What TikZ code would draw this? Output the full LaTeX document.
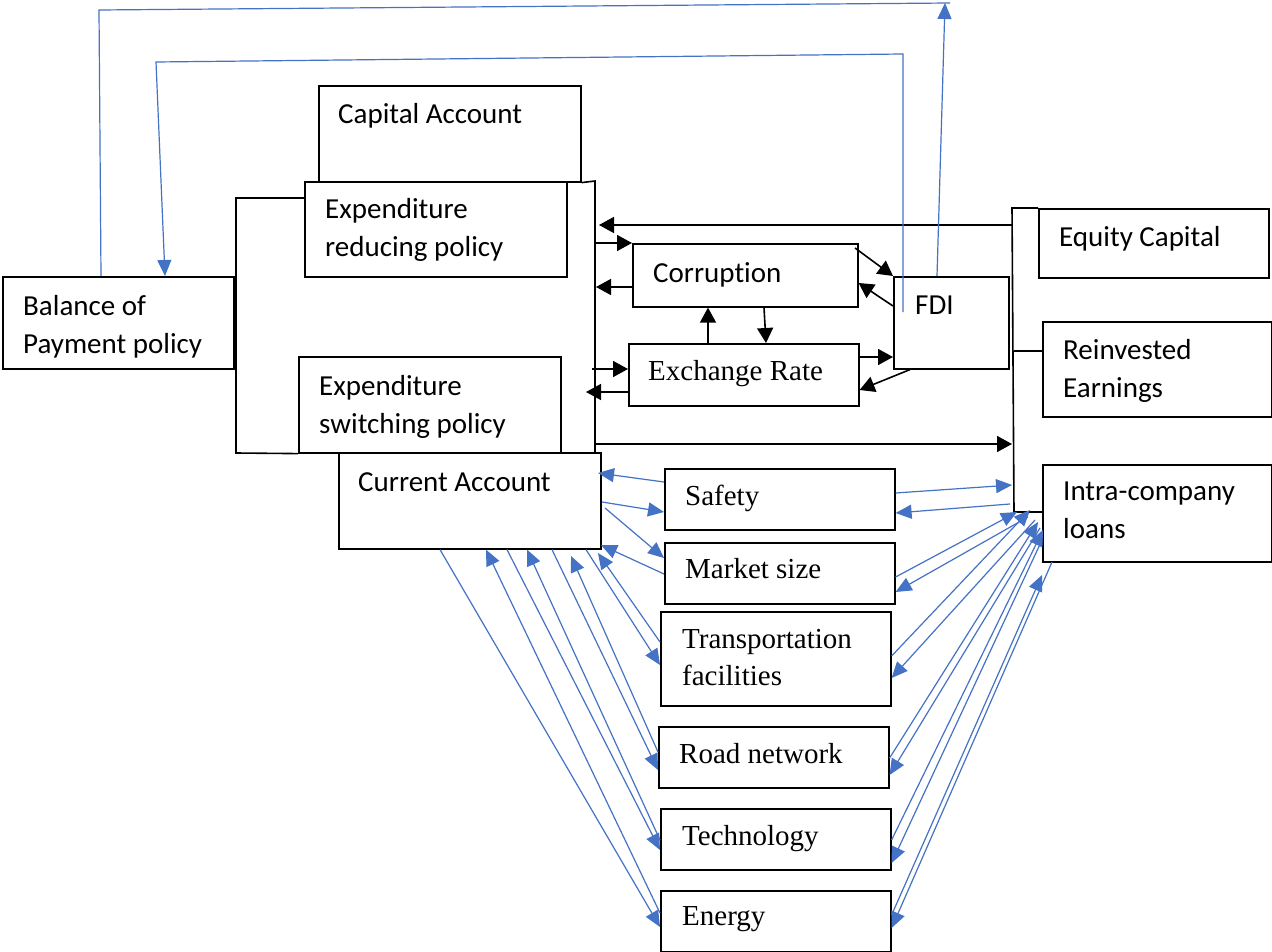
\documentclass[tikz,border=0pt]{standalone}
\usepackage{fontspec}
\setmainfont[Ligatures=NoCommon]{Carlito}
\newfontfamily\tnr{Liberation Serif}
\usetikzlibrary{arrows.meta}
\definecolor{bl}{HTML}{4472C4}
\begin{document}
\begin{tikzpicture}[x=1pt,y=-1pt,
 box/.style={draw, line width=1.6pt, inner sep=0pt, anchor=north west},
 txt/.style={inner sep=0pt, anchor=base west, align=left, font=\fontsize{29}{38}\selectfont},
 stxt/.style={inner sep=0pt, anchor=base west, align=left, font=\fontsize{29}{37}\selectfont\tnr},
 ln/.style={line width=1.6pt},
 barr/.style={line width=1.6pt, -{Triangle[length=15pt,width=16pt]}},
 blarr/.style={draw=bl, line width=1.2pt, -{Triangle[length=16pt,width=14pt]}, color=bl},
 blln/.style={draw=bl, line width=1.2pt}]
\useasboundingbox (0,0) rectangle (1272,952);
\fill[white] (0,0) rectangle (1272,952);
% boxes
\node[box, minimum width=231pt, minimum height=92pt] (bop) at (2,276) {};
\node[box, minimum width=262pt, minimum height=96pt] (cap) at (318,85) {};
\node[box, minimum width=262pt, minimum height=95pt] (red) at (304,181) {};
\node[box, minimum width=262pt, minimum height=96pt] (sw) at (298,356) {};
\node[box, minimum width=262pt, minimum height=96pt] (ca) at (338,452) {};
\node[box, minimum width=225pt, minimum height=63pt] (cor) at (632,243) {};
\node[box, minimum width=230pt, minimum height=62pt] (exr) at (628,343) {};
\node[box, minimum width=115pt, minimum height=92pt] (fdi) at (893,276) {};
\node[box, minimum width=230pt, minimum height=69pt] (eq) at (1038,208) {};
\node[box, minimum width=229pt, minimum height=95pt] (re) at (1042,321) {};
\node[box, minimum width=229pt, minimum height=97pt] (ic) at (1042,464) {};
\node[box, minimum width=230pt, minimum height=61pt] (saf) at (664,468) {};
\node[box, minimum width=230pt, minimum height=61pt] (mkt) at (664,542) {};
\node[box, minimum width=230pt, minimum height=94pt] (tra) at (660,611) {};
\node[box, minimum width=230pt, minimum height=61pt] (road) at (658,726) {};
\node[box, minimum width=230pt, minimum height=61pt] (tech) at (660,808) {};
\node[box, minimum width=230pt, minimum height=61pt] (en) at (660,890) {};
% texts
\node[txt] (bopT) at (23,353) {Balance of\\Payment policy};
\node[txt] (capT) at (338,124) {Capital Account};
\node[txt] (redT) at (325,257) {Expenditure\\reducing policy};
\node[txt] (swT) at (319,433) {Expenditure\\switching policy};
\node[txt] (caT) at (358,491) {Current Account};
\node[txt] (corT) at (653,282) {Corruption};
\node[stxt] (exrT) at (648,380) {Exchange Rate};
\node[txt] (fdiT) at (915,314) {FDI};
\node[txt] (eqT) at (1059,247) {Equity Capital};
\node[txt] (reT) at (1063,397) {Reinvested\\Earnings};
\node[txt] (icT) at (1063,538) {Intra-company\\loans};
\node[stxt] (safT) at (685,505) {Safety};
\node[stxt] (mktT) at (685,578) {Market size};
\node[stxt] (traT) at (682,685) {Transportation\\facilities};
\node[stxt] (roadT) at (679,763) {Road network};
\node[stxt] (techT) at (682,845) {Technology};
\node[stxt] (enT) at (682,925) {Energy};
% black structure lines
\draw[ln] (red.west |- 0,198) -- (236,198) -- (236,453) -- (sw.south west);
\draw[ln] (cap.south east) -- (595,181) -- (595,452);
\draw[ln] (eq.north west) -- (1012,208) -- (1014,512) -- (ic.west |- 0,512);
\draw[ln] (1014,351) -- (re.west |- 0,351);
% black arrows
\draw[barr] (1012,225) -- (599,225);
\draw[barr] (595,243) -- (cor.north west);
\draw[barr] (cor.west |- 0,287) -- (596,287);
\draw[barr] (708,0 |- exr.north) -- (708,0 |- cor.south);
\draw[barr] (764,0 |- cor.south) -- (766,0 |- exr.north);
\draw[barr] (592,369) -- (exr.west |- 0,369);
\draw[barr] (exr.west |- 0,392) -- (586,392);
\draw[barr] (855,248) -- (fdi.north west);
\draw[barr] (fdi.west |- 0,306) -- (cor.east |- 0,283);
\draw[barr] (exr.east |- 0,357) -- (fdi.west |- 0,357);
\draw[barr] (910,0 |- fdi.south) -- (exr.east |- 0,390);
\draw[barr] (595,444) -- (1012,444);
% blue top loops
\draw[blln] (101,0 |- bop.north) -- (99,10) -- (950,3);
\draw[blarr] (937,0 |- fdi.north) -- (945,3);
\draw[blarr] (903,312) -- (903,54) -- (156,62) -- (165,0 |- bop.north);
% blue: current account <-> factors
\draw[blarr] (saf.west |- 0,482) -- (598,473);
\draw[blarr] (602,502) -- (saf.west |- 0,512);
\draw[blarr] (605,508) -- (mkt.west |- 0,558);
\draw[blarr] (mkt.west |- 0,574) -- (601,545);
\draw[blarr] (tra.west |- 0,642) -- (598,553);
\draw[blarr] (586,0 |- ca.south) -- (tra.west |- 0,665);
\draw[blarr] (road.west |- 0,752) -- (571,556);
\draw[blarr] (552,0 |- ca.south) -- (road.west |- 0,770);
\draw[blarr] (tech.west |- 0,840) -- (527,0 |- ca.south);
\draw[blarr] (507,0 |- ca.south) -- (tech.west |- 0,850);
\draw[blarr] (en.west |- 0,913) -- (486,0 |- ca.south);
\draw[blarr] (440,0 |- ca.south) -- (en.west |- 0,927);
% blue: factors <-> intra-company loans
\draw[blarr] (saf.east |- 0,493) -- (1012,485);
\draw[blarr] (1010,504) -- (saf.east |- 0,513);
\draw[blarr] (mkt.east |- 0,577) -- (1017,512);
\draw[blarr] (1028,517) -- (mkt.east |- 0,592);
\draw[blarr] (tra.east |- 0,656) -- (1030,510);
\draw[blarr] (1035,520) -- (tra.east |- 0,678);
\draw[blarr] (road.east |- 0,758) -- (1038,522);
\draw[blarr] (1040,528) -- (road.east |- 0,775);
\draw[blarr] (tech.east |- 0,840) -- (1043,530);
\draw[blarr] (1042,540) -- (tech.east |- 0,863);
\draw[blarr] (en.east |- 0,915) -- (1042,575);
\draw[blarr] (1052,562) -- (en.east |- 0,928);
\end{tikzpicture}
\end{document}
